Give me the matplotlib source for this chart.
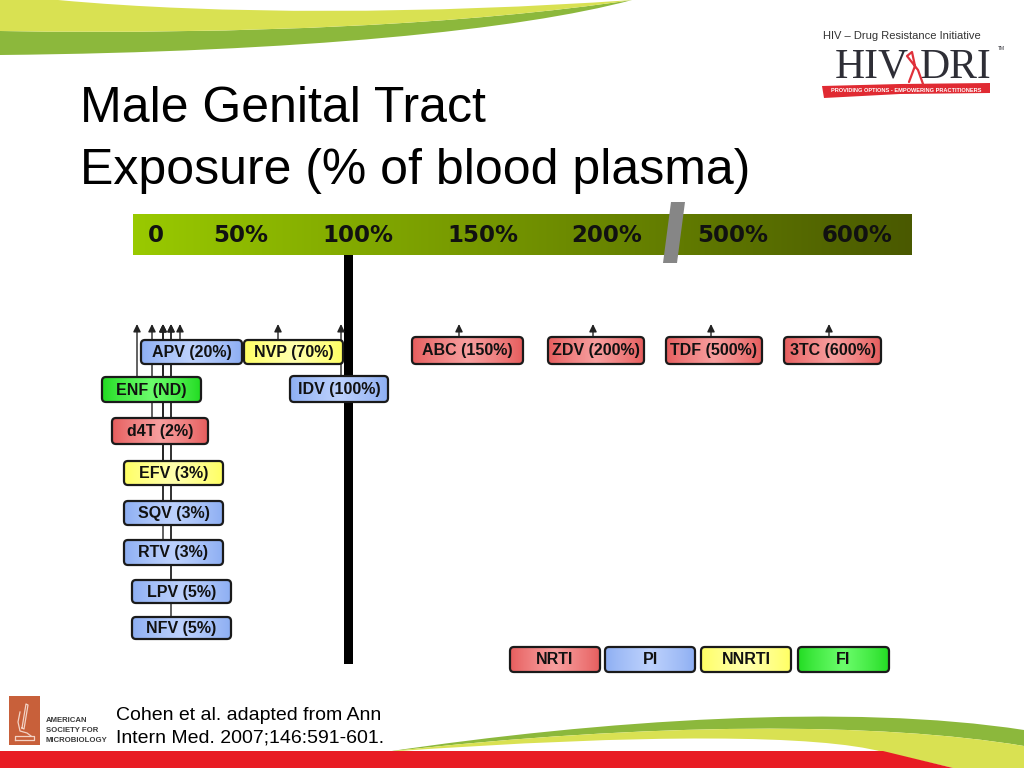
import numpy as np
import matplotlib
matplotlib.use("Agg")
import matplotlib.pyplot as plt
from matplotlib.patches import FancyBboxPatch, Rectangle, Polygon, PathPatch
from matplotlib.path import Path

# ---------------- data ----------------
title_lines = ["Male Genital Tract", "Exposure (% of blood plasma)"]
scale_labels = ["0", "50%", "100%", "150%", "200%", "500%", "600%"]
drugs = ["APV", "NVP", "ENF", "IDV", "d4T", "EFV", "SQV", "RTV", "LPV", "NFV",
         "ABC", "ZDV", "TDF", "3TC"]
exposure = ["20%", "70%", "ND", "100%", "2%", "3%", "3%", "3%", "5%", "5%",
            "150%", "200%", "500%", "600%"]
drug_class = ["PI", "NNRTI", "FI", "PI", "NRTI", "NNRTI", "PI", "PI", "PI", "PI",
              "NRTI", "NRTI", "NRTI", "NRTI"]
legend_classes = ["NRTI", "PI", "NNRTI", "FI"]
citation = ["Cohen et al. adapted from Ann", "Intern Med. 2007;146:591-601."]
asm_lines = ["AMERICAN", "SOCIETY FOR", "MICROBIOLOGY"]

# ---------------- layout (pixels) ----------------
scale_label_x = [156, 241, 358, 483, 607, 733, 857]
box_x0 = [141, 244, 102, 290, 112, 124, 124, 124, 132, 132, 412, 548, 666, 784]
box_x1 = [242, 343, 201, 388, 208, 223, 223, 223, 231, 231, 523, 644, 762, 881]
box_y0 = [340, 340, 377, 376, 418, 461, 501, 540, 580, 617, 337, 337, 337, 337]
box_y1 = [364, 364, 402, 402, 444, 485, 525, 565, 603, 639, 364, 364, 364, 364]
arrow_x = [180, 278, 137, 341, 152, 163, 163, 163, 171, 171, 459, 593, 711, 829]
legend_x0 = [510, 605, 701, 798]
legend_x1 = [600, 695, 791, 889]

class_edge = {"NRTI": (0.90, 0.36, 0.36), "PI": (0.55, 0.68, 0.95),
              "NNRTI": (1.0, 1.0, 0.38), "FI": (0.13, 0.86, 0.13)}
class_center = {"NRTI": (0.97, 0.62, 0.62), "PI": (0.74, 0.82, 0.99),
                "NNRTI": (1.0, 1.0, 0.68), "FI": (0.42, 0.99, 0.42)}

fig = plt.figure(figsize=(10.24, 7.68), dpi=100)
ax = fig.add_axes([0, 0, 1, 1])
ax.set_axis_off()


def grad_box(x0, x1, y0, y1, edge, center, z=5, r=4, lw=1.6):
    patch = FancyBboxPatch((x0, y0), x1 - x0, y1 - y0,
                           boxstyle=f"round,pad=0,rounding_size={r}",
                           fc="none", ec="#1a1a1a", lw=lw, zorder=z + 0.2)
    ax.add_patch(patch)
    u = np.linspace(0, 1, 80)
    t = (1 - np.abs(2 * u - 1)) ** 0.8
    e = np.array(edge)
    c = np.array(center)
    cols = e[None, :] + (c - e)[None, :] * t[:, None]
    im = ax.imshow(cols[None, :, :], extent=(x0, x1, y1, y0), aspect="auto",
                   zorder=z, interpolation="bilinear")
    im.set_clip_path(patch)


# ---------------- decorative swooshes ----------------
green_top = Path([(0, 31), (250, 35), (470, 24), (632, 0), (520, 30), (300, 52), (0, 55), (0, 31)],
                 [Path.MOVETO, Path.CURVE4, Path.CURVE4, Path.CURVE4,
                  Path.CURVE4, Path.CURVE4, Path.CURVE4, Path.CLOSEPOLY])
ax.add_patch(PathPatch(green_top, fc="#8cb83c", ec="none", zorder=1))
yellow_top = Path([(0, 0), (58, 0), (220, 15), (430, 14), (632, 0), (470, 24), (250, 35), (0, 31), (0, 0)],
                  [Path.MOVETO, Path.LINETO, Path.CURVE4, Path.CURVE4, Path.CURVE4,
                   Path.CURVE4, Path.CURVE4, Path.CURVE4, Path.CLOSEPOLY])
ax.add_patch(PathPatch(yellow_top, fc="#d9e152", ec="none", zorder=1.1))

green_bot = Path([(385, 752), (600, 720), (850, 703), (1024, 730), (1024, 746),
                  (880, 722), (650, 722), (385, 752), (385, 752)],
                 [Path.MOVETO, Path.CURVE4, Path.CURVE4, Path.CURVE4, Path.LINETO,
                  Path.CURVE4, Path.CURVE4, Path.CURVE4, Path.CLOSEPOLY])
ax.add_patch(PathPatch(green_bot, fc="#8cb83c", ec="none", zorder=1))
yellow_bot = Path([(385, 752), (650, 722), (880, 722), (1024, 746), (1024, 768),
                   (953, 768), (883, 752), (820, 735), (650, 733), (385, 752), (385, 752)],
                  [Path.MOVETO, Path.CURVE4, Path.CURVE4, Path.CURVE4, Path.LINETO,
                   Path.LINETO, Path.LINETO, Path.CURVE4, Path.CURVE4, Path.CURVE4,
                   Path.CLOSEPOLY])
ax.add_patch(PathPatch(yellow_bot, fc="#d9e152", ec="none", zorder=1.1))
ax.add_patch(Polygon([(0, 751), (883, 751), (953, 768), (0, 768)], closed=True,
                     fc="#e81c24", ec="none", zorder=1.2))

# ---------------- title ----------------
ax.text(80, 122, title_lines[0], fontsize=36, family="Liberation Sans",
        va="baseline", ha="left", color="black", zorder=3)
ax.text(80, 184, title_lines[1], fontsize=36, family="Liberation Sans",
        va="baseline", ha="left", color="black", zorder=3)

# ---------------- HIV DRI logo ----------------
ax.text(902, 36, "HIV \u2013 Drug Resistance Initiative", fontsize=8, family="Liberation Sans",
        ha="center", va="center", color="#333333", zorder=3)
ax.text(909, 78, "HIV", fontsize=30, family="Liberation Serif", ha="right",
        va="baseline", color="#2e2e36", zorder=3)
ax.text(920, 78, "DRI", fontsize=30, family="Liberation Serif", ha="left",
        va="baseline", color="#2e2e36", zorder=3)
ax.text(1001, 49, "TM", fontsize=3.5, family="Liberation Sans", ha="center",
        va="center", color="#2e2e36", zorder=3)
ax.plot([909, 915, 912, 907, 918, 923], [82, 66, 52, 56, 70, 84], color="#e0303a",
        lw=1.6, solid_capstyle="round", zorder=3.1)
ax.add_patch(Polygon([(822, 86), (900, 84), (990, 83), (990, 93), (900, 94), (824, 98)],
                     closed=True, fc="#e02a32", ec="none", zorder=3))
ax.text(906, 90.5, "PROVIDING OPTIONS - EMPOWERING PRACTITIONERS", fontsize=4.1,
        family="Liberation Sans", weight="bold", ha="center", va="center",
        color="white", zorder=3.2)

# ---------------- scale bar ----------------
u = np.linspace(0, 1, 200)
left_c = np.array([0.60, 0.79, 0.0])
right_c = np.array([0.29, 0.35, 0.0])
bar_cols = left_c[None, :] + (right_c - left_c)[None, :] * u[:, None]
ax.imshow(bar_cols[None, :, :], extent=(133, 912, 255, 214), aspect="auto",
          zorder=2, interpolation="bilinear")
for lbl, x in zip(scale_labels, scale_label_x):
    ax.text(x, 236, lbl, fontsize=16.5, family="DejaVu Sans", weight="bold",
            ha="center", va="center", color="#111111", zorder=3)
ax.add_patch(Polygon([(671, 202), (685, 202), (677, 263), (663, 263)], closed=True,
                     fc="#868686", ec="none", zorder=3.5))

# thick 100% line
ax.add_patch(Rectangle((344, 255), 9, 409, fc="black", ec="none", zorder=2))

# ---------------- arrows & drug boxes ----------------
for i, d in enumerate(drugs):
    ax.annotate("", xy=(arrow_x[i], 324), xytext=(arrow_x[i], box_y0[i]),
                arrowprops=dict(arrowstyle="-|>,head_length=0.45,head_width=0.22",
                                color="#222222", lw=1.0, shrinkA=0, shrinkB=0,
                                mutation_scale=10),
                zorder=4)

for i, d in enumerate(drugs):
    c = drug_class[i]
    grad_box(box_x0[i], box_x1[i], box_y0[i], box_y1[i],
             class_edge[c], class_center[c], z=5)
    ax.text((box_x0[i] + box_x1[i]) / 2, (box_y0[i] + box_y1[i]) / 2 + 0.5,
            f"{d} ({exposure[i]})", fontsize=11.5, family="Liberation Sans",
            weight="bold", ha="center", va="center", color="#111111", zorder=6)

# ---------------- legend ----------------
for c, x0, x1 in zip(legend_classes, legend_x0, legend_x1):
    grad_box(x0, x1, 647, 672, class_edge[c], class_center[c], z=5)
    ax.text((x0 + x1) / 2, 660, c, fontsize=11.5,
            family=["Liberation Sans Narrow", "Liberation Sans"], weight="bold",
            ha="center", va="center", color="#111111", zorder=6)

# ---------------- footer ----------------
ax.add_patch(Rectangle((9, 696), 31, 49, fc="#c8603a", ec="none", zorder=3))
ax.plot([15, 34, 34, 15, 15], [740, 740, 736, 736, 740], color="#f3d2c4", lw=0.9, zorder=3.2)
ax.plot([22, 26, 28, 24, 22], [728, 704, 705, 729, 728], color="#f3d2c4", lw=0.9, zorder=3.2)
ax.plot([20, 18, 20, 27, 31], [712, 722, 731, 733, 736], color="#f3d2c4", lw=0.9, zorder=3.2)
for k, s in enumerate(asm_lines):
    ax.text(46, 720 + 10 * k, s, fontsize=5.6,
            family=["Liberation Sans Narrow", "Liberation Sans"], weight="bold",
            ha="left", va="center", color="#3a3a3a", zorder=3)
ax.text(116, 716, citation[0], fontsize=14, family="Liberation Sans",
        ha="left", va="center", color="black", zorder=3)
ax.text(116, 738, citation[1], fontsize=14, family="Liberation Sans",
        ha="left", va="center", color="black", zorder=3)

ax.set_xlim(0, 1024)
ax.set_ylim(768, 0)
fig.savefig("out.png", dpi=100)
